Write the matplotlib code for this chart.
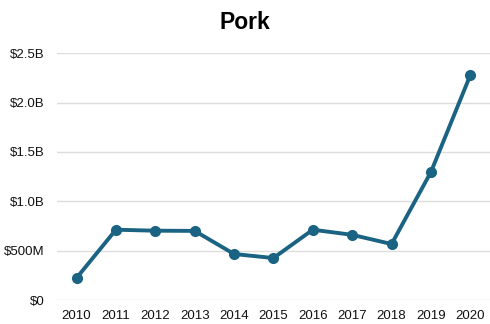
import numpy as np
import matplotlib.pyplot as plt
from matplotlib.ticker import FuncFormatter

# Pork values by year (billions of dollars)
years = [2010, 2011, 2012, 2013, 2014, 2015, 2016, 2017, 2018, 2019, 2020]
values = [0.223, 0.712, 0.702, 0.700, 0.466, 0.425, 0.712, 0.660, 0.567, 1.296, 2.277]
yticks = [0, 0.5, 1.0, 1.5, 2.0, 2.5]

plt.rcParams['font.family'] = ['Liberation Sans', 'DejaVu Sans']

fig = plt.figure(figsize=(4.9, 3.24), dpi=100)
ax = fig.add_axes([0.116, 0.074, 0.884, 0.762])

ax.plot(years, values, '-o', color='#1b6383', lw=2.8, markersize=7, zorder=3)

def fmt(v, pos):
    if v == 0:
        return '$0'
    if v < 1:
        return '$%dM' % round(v * 1000)
    return '$%.1fB' % v

ax.set_yticks(yticks)
ax.yaxis.set_major_formatter(FuncFormatter(fmt))
ax.set_ylim(0, 2.5)
ax.set_xticks(years)
ax.set_xlim(2009.5, 2020.5)

ax.grid(axis='y', color='#dddddd', lw=1)
ax.set_axisbelow(True)
for s in ax.spines.values():
    s.set_visible(False)
ax.tick_params(length=0, labelsize=9.5, colors='#111111', pad=7)
ax.tick_params(axis='y', pad=9)

fig.suptitle('Pork', fontsize=16.5, fontweight='bold', y=0.967)

fig.savefig('out.png', dpi=100)
